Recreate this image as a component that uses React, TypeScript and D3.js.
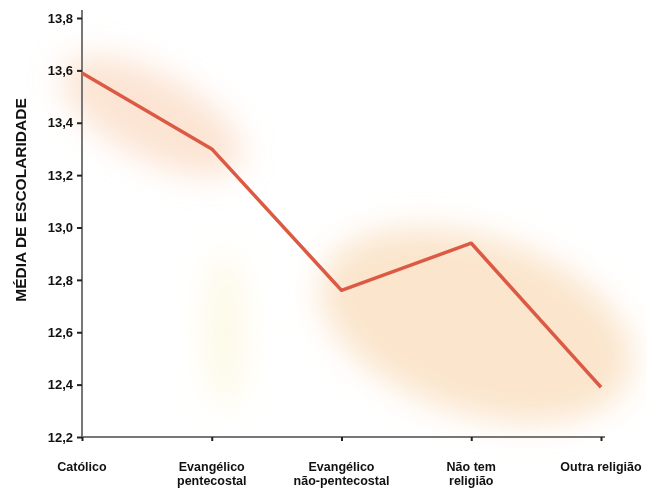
import { useEffect, useRef } from "react";
import * as d3 from "d3";

const categories = [
  ["Católico"],
  ["Evangélico", "pentecostal"],
  ["Evangélico", "não-pentecostal"],
  ["Não tem", "religião"],
  ["Outra religião"],
];
const values = [13.59, 13.3, 12.76, 12.94, 12.39];
const yTicks = [12.2, 12.4, 12.6, 12.8, 13.0, 13.2, 13.4, 13.6, 13.8];
const yTitle = "MÉDIA DE ESCOLARIDADE";

const W = 647;
const H = 498;
const FONT = "Liberation Sans, Arial, sans-serif";

function App() {
  const svgRef = useRef<SVGSVGElement>(null);

  useEffect(() => {
    const svg = d3.select(svgRef.current);
    svg.selectAll("*").remove();

    const left = 82;
    const right = 601;
    const top = 18;
    const bottom = 437;

    const x = d3
      .scalePoint<number>()
      .domain(categories.map((_, i) => i))
      .range([left, right]);
    const y = d3.scaleLinear().domain([12.2, 13.8]).range([bottom, top]);

    // soft glow blobs behind the line
    const defs = svg.append("defs");
    defs
      .append("filter")
      .attr("id", "blur")
      .attr("x", "-50%")
      .attr("y", "-50%")
      .attr("width", "200%")
      .attr("height", "200%")
      .append("feGaussianBlur")
      .attr("stdDeviation", 16);

    const glow = svg.append("g").attr("filter", "url(#blur)");
    const cx1 = (x(0)! + x(1)!) / 2 + 5;
    const cy1 = (y(values[0]) + y(values[1])) / 2 + 5;
    glow
      .append("ellipse")
      .attr("cx", cx1)
      .attr("cy", cy1)
      .attr("rx", 100)
      .attr("ry", 42)
      .attr("transform", `rotate(28 ${cx1} ${cy1})`)
      .attr("fill", "#f8c49e")
      .attr("opacity", 0.45);
    const cx2 = (x(2)! + x(4)!) / 2 + 5;
    const cy2 = (y(values[3]) + y(values[4])) / 2 + 10;
    glow
      .append("ellipse")
      .attr("cx", cx2)
      .attr("cy", cy2)
      .attr("rx", 162)
      .attr("ry", 88)
      .attr("transform", `rotate(18 ${cx2} ${cy2})`)
      .attr("fill", "#f8cfa2")
      .attr("opacity", 0.55);
    glow
      .append("ellipse")
      .attr("cx", 225)
      .attr("cy", 330)
      .attr("rx", 20)
      .attr("ry", 80)
      .attr("fill", "#fbf1c8")
      .attr("opacity", 0.45);

    // axes
    const yAxis = d3
      .axisLeft(y)
      .tickValues(yTicks)
      .tickSize(5)
      .tickFormat((d) => d3.format(".1f")(d as number).replace(".", ","));
    const gy = svg.append("g").attr("transform", `translate(${left},0)`).call(yAxis);
    gy.select(".domain").attr("stroke", "#777").attr("stroke-width", 2).attr("d", `M0,${top - 8}V${bottom}`);
    gy.selectAll(".tick line").attr("stroke", "#222").attr("stroke-width", 2);
    gy.selectAll(".tick text")
      .attr("x", -9)
      .attr("font-family", FONT)
      .attr("font-weight", "bold")
      .attr("font-size", 13)
      .attr("fill", "#111");

    const xAxis = d3.axisBottom(x).tickSize(4).tickFormat(() => "");
    const gx = svg.append("g").attr("transform", `translate(0,${bottom})`).call(xAxis);
    gx.select(".domain").attr("stroke", "#777").attr("stroke-width", 2).attr("d", `M${left},0H${right + 4}`);
    gx.selectAll(".tick line").attr("stroke", "#222").attr("stroke-width", 2);

    const labels = svg
      .append("g")
      .selectAll("text")
      .data(categories)
      .join("text")
      .attr("x", (_, i) => x(i)!)
      .attr("y", 471)
      .attr("text-anchor", "middle")
      .attr("font-family", FONT)
      .attr("font-weight", "bold")
      .attr("font-size", 12.5)
      .attr("fill", "#111");
    labels
      .selectAll("tspan")
      .data((d) => d)
      .join("tspan")
      .attr("x", function () {
        return (this as any).parentNode.getAttribute("x");
      })
      .attr("dy", (_, i) => (i === 0 ? 0 : 14))
      .text((d) => d);

    svg
      .append("text")
      .attr("transform", `translate(26,${200}) rotate(-90)`)
      .attr("text-anchor", "middle")
      .attr("font-family", FONT)
      .attr("font-weight", "bold")
      .attr("font-size", 15.5)
      .attr("fill", "#111")
      .text(yTitle);

    // the line
    const line = d3
      .line<number>()
      .x((_, i) => x(i)!)
      .y((d) => y(d));
    svg
      .append("path")
      .datum(values)
      .attr("fill", "none")
      .attr("stroke", "#dc5a44")
      .attr("stroke-width", 3.5)
      .attr("stroke-linejoin", "round")
      .attr("d", line);
  }, []);

  return (
    <svg
      ref={svgRef}
      width={W}
      height={H}
      style={{ position: "absolute", left: 0, top: 0, display: "block", background: "#fff" }}
    />
  );
}

export default App;
